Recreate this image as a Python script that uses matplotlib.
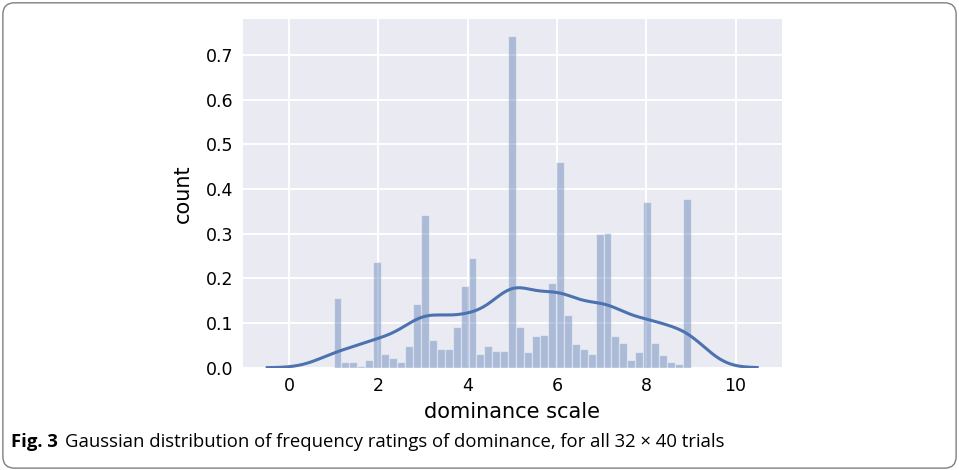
import numpy as np
import matplotlib.pyplot as plt
from matplotlib.patches import FancyBboxPatch

# histogram: 45 bins between 1 and 9, density per bin
bin_lo, bin_hi, n_bins = 1.0, 9.0, 45
density = [0.157, 0.013, 0.013, 0.004, 0.017, 0.237, 0.031, 0.021, 0.013, 0.049,
           0.143, 0.342, 0.063, 0.042, 0.042, 0.092, 0.183, 0.245, 0.031, 0.049,
           0.038, 0.038, 0.743, 0.092, 0.034, 0.070, 0.074, 0.190, 0.461, 0.117,
           0.052, 0.042, 0.031, 0.299, 0.302, 0.070, 0.056, 0.017, 0.035, 0.371,
           0.056, 0.028, 0.013, 0.009, 0.378]
n_trials = 32 * 40

xticks = [0, 2, 4, 6, 8, 10]
yticks = [0.0, 0.1, 0.2, 0.3, 0.4, 0.5, 0.6, 0.7]
caption_bold = "Fig. 3"
caption_rest = "Gaussian distribution of frequency ratings of dominance, for all 32 \u00d7 40 trials"

blue = '#4C72B0'

edges = np.linspace(bin_lo, bin_hi, n_bins + 1)
width = edges[1] - edges[0]
centers = edges[:-1] + width / 2
dens = np.array(density)

# gaussian kde from the binned data (scott bandwidth)
wts = dens * width / np.sum(dens * width)
mu = np.sum(wts * centers)
sd = np.sqrt(np.sum(wts * (centers - mu) ** 2))
bw = sd * n_trials ** (-0.2)
grid = np.linspace(bin_lo - 3 * bw, bin_hi + 3 * bw, 300)
kde = np.zeros_like(grid)
for c, wt in zip(centers, wts):
    kde += wt * np.exp(-0.5 * ((grid - c) / bw) ** 2) / (bw * np.sqrt(2 * np.pi))

fig = plt.figure(figsize=(9.59, 4.70), dpi=100)
ax = fig.add_axes([0.2531, 0.2177, 0.5620, 0.7419])
ax.set_facecolor('#EAEAF2')
ax.grid(True, color='white', linewidth=1.4)
ax.set_axisbelow(True)
for s in ax.spines.values():
    s.set_visible(False)

ax.bar(edges[:-1], dens, width=width, align='edge', color=blue, alpha=0.4,
       edgecolor='white', linewidth=0.9)
ax.plot(grid, kde, color=blue, linewidth=2.2)

ax.set_xticks(xticks)
ax.set_yticks(yticks)
ax.set_yticklabels([f'{v:.1f}' for v in yticks])
ax.tick_params(length=0, labelsize=12.5, pad=7)
ax.set_xlim(grid[0] - 0.05 * (grid[-1] - grid[0]), grid[-1] + 0.05 * (grid[-1] - grid[0]))
ax.set_ylim(0, max(density) * 1.05)
ax.set_xlabel('dominance scale', fontsize=15, labelpad=5)
ax.set_ylabel('count', fontsize=15, labelpad=9)

# rounded frame round the whole figure
frame = FancyBboxPatch((0.003, 0.004), 0.994, 0.990, boxstyle='round,pad=0,rounding_size=0.012',
                       transform=fig.transFigure, facecolor='none', edgecolor='#7f7f7f',
                       linewidth=1.0, mutation_aspect=959 / 470)
fig.patches.append(frame)

t1 = fig.text(0.011, 0.060, caption_bold, fontsize=13.3, fontweight='bold',
              family='Open Sans', va='center')
fig.canvas.draw()
bb = t1.get_window_extent()
fig.text((bb.x1 + 8) / fig.bbox.width, 0.060, caption_rest, fontsize=13.3,
         family='Open Sans', va='center')

plt.savefig('out.png', dpi=100)
